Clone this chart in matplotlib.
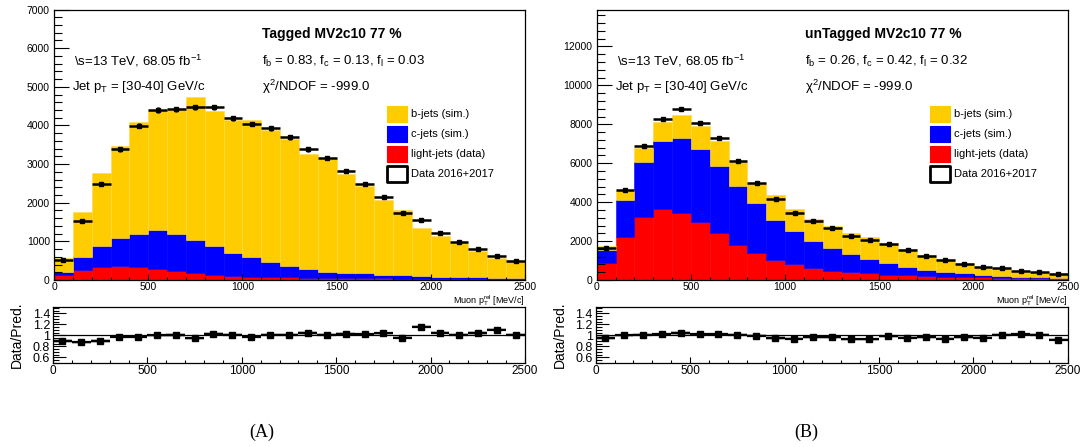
import numpy as np
import matplotlib
matplotlib.use("Agg")
import matplotlib.pyplot as plt
from matplotlib.ticker import MultipleLocator
from matplotlib.patches import Rectangle

plt.rcParams["font.family"] = ["Liberation Sans", "DejaVu Sans"]
plt.rcParams["mathtext.default"] = "regular"

# Muon p_T^rel binning [MeV/c]
bin_lo = [0, 100, 200, 300, 400, 500, 600, 700, 800, 900, 1000, 1100, 1200,
          1300, 1400, 1500, 1600, 1700, 1800, 1900, 2000, 2100, 2200, 2300, 2400]
bin_width = 100

# Tagged MV2c10 77 %
tag_b = [360, 1164, 1898, 2373, 2891, 3106, 3218, 3689, 3490, 3430, 3554, 3416, 3278,
         2968, 2904, 2553, 2261, 1922, 1689, 1237, 1060, 884, 692, 510, 431]
tag_c = [95, 328, 544, 716, 854, 1001, 949, 863, 751, 596, 497, 399, 297,
         227, 164, 142, 128, 98, 84, 69, 59, 51, 43, 37, 31]
tag_l = [121, 259, 336, 371, 345, 293, 233, 172, 129, 112, 90, 75, 65,
         58, 52, 48, 44, 40, 37, 34, 31, 29, 27, 25, 24]
tag_data = [517, 1527, 2484, 3380, 3990, 4400, 4420, 4466, 4466, 4181, 4037, 3925, 3692,
            3382, 3150, 2812, 2476, 2140, 1734, 1553, 1208, 974, 793, 629, 491]

# unTagged MV2c10 77 %
untag_b = [181, 500, 722, 989, 1189, 1181, 1282, 1244, 1062, 1302, 1168, 1123, 1133,
           1070, 1113, 1035, 909, 774, 647, 515, 415, 373, 291, 262, 230]
untag_c = [687, 1888, 2850, 3485, 3811, 3726, 3416, 2987, 2557, 2060, 1703, 1406, 1148,
           912, 741, 582, 448, 324, 252, 200, 133, 96, 60, 59, 33]
untag_l = [858, 2232, 3227, 3639, 3468, 3004, 2438, 1820, 1391, 1030, 800, 618, 479,
           427, 340, 273, 237, 206, 175, 160, 140, 125, 110, 95, 85]
untag_data = [1640, 4620, 6867, 8275, 8807, 8069, 7279, 6112, 4960, 4172, 3451, 3021, 2650,
              2240, 2040, 1850, 1530, 1252, 1010, 840, 660, 600, 470, 420, 320]

legend_labels = ["b-jets (sim.)", "c-jets (sim.)", "light-jets (data)", "Data 2016+2017"]
x_ticks = [0, 500, 1000, 1500, 2000, 2500]
ratio_ticks = [0.6, 0.8, 1.0, 1.2, 1.4]
ratio_tick_labels = ["0.6", "0.8", "1", "1.2", "1.4"]

COL_B = "#ffcc00"
COL_C = "#0000ff"
COL_L = "#ff0000"

W, H = 1080, 447
fig = plt.figure(figsize=(W / 100, H / 100), dpi=100)


def px_axes(x0, y_top, x1, y_bot):
    return fig.add_axes([x0 / W, 1 - y_bot / H, (x1 - x0) / W, (y_bot - y_top) / H])


def style_axis(ax, ymajor_len, ylabel_size):
    ax.tick_params(axis="both", which="both", direction="in", top=False, right=False)
    ax.tick_params(axis="y", which="major", length=ymajor_len, width=0.8,
                   labelsize=ylabel_size, pad=3)
    ax.tick_params(axis="y", which="minor", length=ymajor_len / 2, width=0.8)
    ax.tick_params(axis="x", which="major", length=4, width=0.8, labelsize=7.5, pad=1.5)
    ax.tick_params(axis="x", which="minor", length=2.5, width=0.8)
    for s in ax.spines.values():
        s.set_linewidth(0.9)


def draw(x0, x1, b, c, l, data, ymax, ymaj, ymin, title, fracs):
    b = np.array(b, float)
    c = np.array(c, float)
    l = np.array(l, float)
    data = np.array(data, float)
    lo = np.array(bin_lo, float)
    ctr = lo + bin_width / 2
    total = b + c + l

    ax = px_axes(x0, 9.5, x1, 280)
    ax.bar(lo, l, width=bin_width, align="edge", color=COL_L, lw=0.4, edgecolor=COL_L)
    ax.bar(lo, c, bottom=l, width=bin_width, align="edge", color=COL_C, lw=0.4, edgecolor=COL_C)
    ax.bar(lo, b, bottom=l + c, width=bin_width, align="edge", color=COL_B, lw=0.4,
           edgecolor="#ffd84d")
    ax.errorbar(ctr, data, xerr=bin_width / 2, yerr=np.sqrt(data), fmt="s", ms=2.2,
                color="k", elinewidth=1.8, capsize=0)
    ax.set_xlim(0, 2500)
    ax.set_ylim(0, ymax)
    ax.xaxis.set_major_locator(MultipleLocator(500))
    ax.xaxis.set_minor_locator(MultipleLocator(100))
    ax.yaxis.set_major_locator(MultipleLocator(ymaj))
    ax.yaxis.set_minor_locator(MultipleLocator(ymin))
    ax.set_xticks(x_ticks)
    style_axis(ax, 11, 7.5)
    ax.text(1.0, -0.047, r"Muon p$_{T}^{rel}$ [MeV/c]", transform=ax.transAxes,
            ha="right", va="top", fontsize=6.5)

    wpx = x1 - x0
    tx = lambda px: (px - x0) / wpx
    ty = lambda py: (280 - py) / 270.5
    ax.text(tx(x0 + 208), ty(34), title, transform=ax.transAxes, fontsize=10,
            fontweight="bold", va="center", ha="left")
    ax.text(tx(x0 + 20), ty(61), r"\s=13 TeV, 68.05 fb$^{-1}$", transform=ax.transAxes,
            fontsize=9.5, va="center", ha="left")
    ax.text(tx(x0 + 18), ty(87), r"Jet p$_{T}$ = [30-40] GeV/c", transform=ax.transAxes,
            fontsize=9.5, va="center", ha="left")
    ax.text(tx(x0 + 208), ty(61), r"f$_{b}$ = %.2f, f$_{c}$ = %.2f, f$_{l}$ = %.2f" % fracs,
            transform=ax.transAxes, fontsize=9.5, va="center", ha="left")
    ax.text(tx(x0 + 208), ty(87), r"$\chi^{2}$/NDOF = -999.0", transform=ax.transAxes,
            fontsize=9.5, va="center", ha="left")

    # legend
    faces = [COL_B, COL_C, COL_L, "white"]
    edges = [COL_B, COL_C, COL_L, "black"]
    lws = [0.8, 0.8, 0.8, 2.0]
    for i, lab in enumerate(legend_labels):
        top = 106 + 20 * i
        ax.add_patch(Rectangle((tx(x0 + 333), ty(top + 16)), 20 / wpx, 16 / 270.5,
                               transform=ax.transAxes, facecolor=faces[i],
                               edgecolor=edges[i], lw=lws[i], joinstyle="round"))
        ax.text(tx(x0 + 357), ty(top + 8), lab, transform=ax.transAxes, fontsize=8,
                va="center", ha="left")

    # ratio panel
    r = data / total
    rerr = np.sqrt(data) / total
    axr = px_axes(x0 - 1, 307.3, x1, 363.3)
    for xi, ri in zip(lo, r):
        axr.add_patch(Rectangle((xi, ri - 0.03), bin_width, 0.06, facecolor="#c8c8c8",
                                edgecolor="none", zorder=1))
    axr.axhline(1.0, color="k", lw=0.9, zorder=2)
    axr.errorbar(ctr, r, xerr=bin_width / 2, yerr=rerr, fmt="s", ms=5, color="k",
                 elinewidth=1.6, capsize=0, zorder=3)
    axr.set_xlim(0, 2500)
    axr.set_ylim(0.49, 1.51)
    axr.set_xticks(x_ticks)
    axr.xaxis.set_minor_locator(MultipleLocator(100))
    axr.set_yticks(ratio_ticks)
    axr.set_yticklabels(ratio_tick_labels)
    axr.yaxis.set_minor_locator(MultipleLocator(0.05))
    style_axis(axr, 9, 9)
    axr.tick_params(axis="x", labelsize=8.5, pad=1.5)
    axr.tick_params(axis="y", pad=2)
    fig.text((x0 - 37) / W, 1 - 335 / H, "Data/Pred.", rotation=90, fontsize=10,
             ha="center", va="center")
    return ax


draw(54, 525, tag_b, tag_c, tag_l, tag_data, 7000, 1000, 200,
     "Tagged MV2c10 77 %", (0.83, 0.13, 0.03))
draw(596.7, 1067.7, untag_b, untag_c, untag_l, untag_data, 13900, 2000, 400,
     "unTagged MV2c10 77 %", (0.26, 0.42, 0.32))

fig.text(262 / W, 1 - 432 / H, "(A)", fontsize=13, family="Liberation Serif",
         ha="center", va="center")
fig.text(806 / W, 1 - 432 / H, "(B)", fontsize=13, family="Liberation Serif",
         ha="center", va="center")

fig.savefig("out.png", dpi=100)
